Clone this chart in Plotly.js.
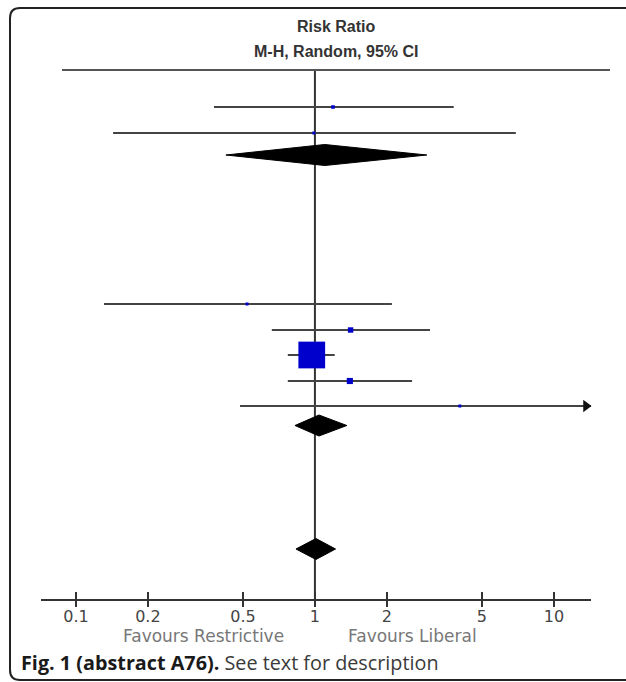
<!DOCTYPE html>
<html>
<head>
<meta charset="utf-8">
<script src="https://cdn.plot.ly/plotly-3.0.1.min.js"></script>
<style>
  html, body { margin: 0; padding: 0; background: #fff; overflow: hidden; }
  #chart { width: 626px; height: 682px; }
</style>
</head>
<body>
<div id="chart"></div>
<script>
// ---- data ----
const studyRR   = [1.19, 0.99, 0.52, 1.41, 0.97, 1.40, 4.04];
const studyLo   = [0.378, 0.143, 0.131, 0.66, 0.77, 0.77, 0.486];
const studyHi   = [3.81, 6.93, 2.10, 3.03, 1.21, 2.55, 33.5];
const studyWeight = [1.5, 0.8, 0.6, 3.5, 85, 4.5, 0.5];
const studyRow  = [1, 2.04, 8.88, 9.92, 10.92, 11.96, 12.96];

const pooledRR  = [1.10, 1.04, 1.01];
const pooledLo  = [0.424, 0.825, 0.833];
const pooledHi  = [2.94, 1.36, 1.22];
const pooledRow = [2.92, 13.74, 18.68];

const tickVals  = [0.1, 0.2, 0.5, 1, 2, 5, 10];
const tickText  = ['0.1', '0.2', '0.5', '1', '2', '5', '10'];

const titleLines = ['Risk Ratio', 'M-H, Random, 95% CI'];
const favourLeft = 'Favours Restrictive';
const favourRight = 'Favours Liberal';
const captionBold = 'Fig. 1 (abstract A76).';
const captionRest = 'See text for description';

// ---- layout geometry ----
const W = 626, H = 682;
const M = {l: 41, r: 35, t: 70, b: 83};
const plotW = W - M.l - M.r, plotH = H - M.t - M.b;
const xMin = 0.0714, xMax = 14.3;
const yRange = [20.68, -0.48];
const pxPerDecade = plotW / (Math.log10(xMax) - Math.log10(xMin));
const px = x => (x - M.l) / plotW;
const py = y => (H - M.b - y) / plotH;

const traces = [];

// reference line at RR = 1
traces.push({
  x: [1, 1], y: yRange, mode: 'lines', type: 'scatter',
  line: {color: '#333', width: 2}, hoverinfo: 'skip', showlegend: false
});

// confidence interval lines
const ciX = [], ciY = [];
studyRR.forEach((v, i) => {
  ciX.push(studyLo[i], Math.min(studyHi[i], xMax), null);
  ciY.push(studyRow[i], studyRow[i], null);
});
traces.push({
  x: ciX, y: ciY, mode: 'lines', type: 'scatter',
  line: {color: '#444', width: 2}, hoverinfo: 'skip', showlegend: false
});

// arrows for intervals beyond the axis
const arrX = [], arrY = [];
studyHi.forEach((h, i) => {
  if (h > xMax) {
    arrX.push(Math.pow(10, Math.log10(xMax) - 5 / pxPerDecade));
    arrY.push(studyRow[i]);
  }
});
traces.push({
  x: arrX, y: arrY, mode: 'markers', type: 'scatter', cliponaxis: false,
  marker: {symbol: 'triangle-right', size: 11, color: '#111', opacity: 1},
  hoverinfo: 'skip', showlegend: false
});

// study squares
traces.push({
  x: studyRR, y: studyRow, mode: 'markers', type: 'scatter',
  marker: {symbol: 'square', color: '#0000CC', opacity: 1,
           size: studyWeight.map(w => Math.max(3, 2.9 * Math.sqrt(w))),
           line: {width: 0}},
  hoverinfo: 'skip', showlegend: false
});

// pooled diamonds
const halfH = 0.42;
pooledRR.forEach((e, i) => {
  const r = pooledRow[i];
  traces.push({
    x: [pooledLo[i], e, pooledHi[i], e, pooledLo[i]],
    y: [r, r - halfH, r, r + halfH, r],
    mode: 'lines', type: 'scatter', fill: 'toself',
    fillcolor: '#000', line: {color: '#000', width: 1},
    hoverinfo: 'skip', showlegend: false
  });
});

// helper trace for the inner tick axis
traces.push({
  x: [1], y: [0], xaxis: 'x2', mode: 'markers', type: 'scatter',
  marker: {opacity: 0}, hoverinfo: 'skip', showlegend: false
});

const axisFont = {family: 'DejaVu Sans, Liberation Sans, sans-serif', size: 16, color: '#444'};

const layout = {
  width: W, height: H,
  margin: M,
  paper_bgcolor: '#fff', plot_bgcolor: '#fff',
  showlegend: false,
  xaxis: {
    type: 'log', range: [Math.log10(xMin), Math.log10(xMax)],
    tickvals: tickVals, ticktext: tickText,
    ticks: 'outside', ticklen: 6, tickwidth: 2, tickcolor: '#333',
    ticklabelstandoff: -4,
    showline: true, linecolor: '#333', linewidth: 2,
    showgrid: false, zeroline: false, tickfont: axisFont, fixedrange: true
  },
  xaxis2: {
    type: 'log', range: [Math.log10(xMin), Math.log10(xMax)],
    overlaying: 'x', anchor: 'y', side: 'bottom',
    tickvals: tickVals, ticks: 'inside', ticklen: 7, tickwidth: 2, tickcolor: '#333',
    showticklabels: false, showline: false, showgrid: false, zeroline: false
  },
  yaxis: {
    range: yRange, visible: false, showgrid: false, zeroline: false, fixedrange: true
  },
  shapes: [
    // figure frame (open on the right)
    {type: 'path', xref: 'paper', yref: 'paper', layer: 'above',
     path: `M ${px(640)},${py(8)} L ${px(20)},${py(8)} Q ${px(10)},${py(8)} ${px(10)},${py(18)} ` +
           `L ${px(10)},${py(670)} Q ${px(10)},${py(680)} ${px(20)},${py(680)} L ${px(640)},${py(680)}`,
     line: {color: '#222', width: 2}},
    // header rule
    {type: 'line', xref: 'paper', yref: 'paper', layer: 'above',
     x0: px(62), x1: px(610), y0: 1, y1: 1,
     line: {color: '#555', width: 2}}
  ],
  annotations: [
    {xref: 'paper', yref: 'paper', x: px(336), y: py(27), text: '<b>' + titleLines[0] + '</b>',
     showarrow: false, xanchor: 'center', yanchor: 'middle',
     font: {family: 'Liberation Sans, Arial, sans-serif', size: 16, color: '#333'}},
    {xref: 'paper', yref: 'paper', x: px(336), y: py(51), text: '<b>' + titleLines[1] + '</b>',
     showarrow: false, xanchor: 'center', yanchor: 'middle',
     font: {family: 'Liberation Sans, Arial, sans-serif', size: 16, color: '#333'}},
    {xref: 'paper', yref: 'paper', x: px(203), y: py(636), text: favourLeft,
     showarrow: false, xanchor: 'center', yanchor: 'middle',
     font: {family: 'DejaVu Sans, Liberation Sans, sans-serif', size: 17, color: '#777'}},
    {xref: 'paper', yref: 'paper', x: px(412), y: py(636), text: favourRight,
     showarrow: false, xanchor: 'center', yanchor: 'middle',
     font: {family: 'DejaVu Sans, Liberation Sans, sans-serif', size: 17, color: '#777'}},
    {xref: 'paper', yref: 'paper', x: px(19), y: py(662),
     text: '<b><span style="color:#1a1a1a">' + captionBold + '</span></b> ' + captionRest,
     showarrow: false, xanchor: 'left', yanchor: 'middle',
     font: {family: 'Open Sans, Noto Sans, sans-serif', size: 19.8, color: '#3a3a3a'}}
  ]
};

Plotly.newPlot('chart', traces, layout, {displayModeBar: false, staticPlot: true});
</script>
</body>
</html>
